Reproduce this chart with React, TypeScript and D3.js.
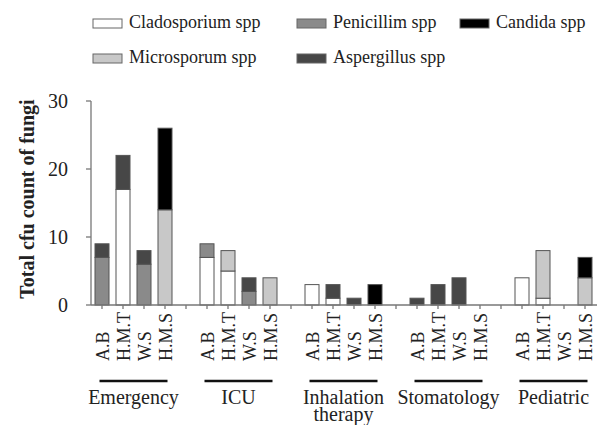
import React from "react";
import * as d3 from "d3";

const series = ["Cladosporium spp", "Penicillim spp", "Microsporum spp", "Aspergillus spp", "Candida spp"];
const colors = ["#ffffff", "#8a8a8a", "#c8c8c8", "#474747", "#000000"];
const groups = ["Emergency", "ICU", "Inhalation therapy", "Stomatology", "Pediatric"];
const sites = ["A.B", "H.M.T", "W.S", "H.M.S"];

// values per group and site: Emergency, ICU, Inhalation therapy, Stomatology, Pediatric × A.B, H.M.T, W.S, H.M.S
const cladosporium = [0, 17, 0, 0, 7, 5, 0, 0, 3, 1, 0, 0, 0, 0, 0, 0, 4, 1, 0, 0];
const penicillim = [7, 0, 6, 0, 2, 0, 2, 0, 0, 0, 0, 0, 0, 0, 0, 0, 0, 0, 0, 0];
const microsporum = [0, 0, 0, 14, 0, 3, 0, 4, 0, 0, 0, 0, 0, 0, 0, 0, 0, 7, 0, 4];
const aspergillus = [2, 5, 2, 0, 0, 0, 2, 0, 0, 2, 1, 0, 1, 3, 4, 0, 0, 0, 0, 0];
const candida = [0, 0, 0, 12, 0, 0, 0, 0, 0, 0, 0, 3, 0, 0, 0, 0, 0, 0, 0, 3];
const yTicks = [0, 10, 20, 30];

const legendOrder = [
  { s: 0, col: 0, row: 0 },
  { s: 1, col: 1, row: 0 },
  { s: 4, col: 2, row: 0 },
  { s: 2, col: 0, row: 1 },
  { s: 3, col: 1, row: 1 },
];

export default function App() {
  const W = 608, H = 425;
  const font = "Liberation Serif, DejaVu Serif, serif";
  const nSlots = 24;
  const x0 = 91.5, step = 21;
  const y = d3.scaleLinear().domain([0, 30]).range([305, 101]);
  const bw = 14;
  const slotScale = d3.scaleLinear().domain([0, nSlots]).range([x0, x0 + step * nSlots]);
  const slotCenter = (s: number) => slotScale(s + 0.5);

  const rows = cladosporium.map((_, i) => ({
    i,
    slot: Math.floor(i / 4) * 5 + (i % 4),
    vals: [cladosporium[i], penicillim[i], microsporum[i], aspergillus[i], candida[i]],
  }));
  const stackData = rows.map((r) => {
    const o: any = { slot: r.slot };
    series.forEach((s, k) => (o[s] = r.vals[k]));
    return o;
  });
  const stacked = d3.stack().keys(series)(stackData);

  const legendX = [93, 297, 460];
  const legendY = [19, 54];
  const ts = { fontFamily: font };

  return (
    <svg width={W} height={H} style={{ position: "absolute", left: 0, top: 0, background: "#fff" }}>
      {legendOrder.map((l) => (
        <g key={l.s} transform={`translate(${legendX[l.col]},${legendY[l.row]})`}>
          <rect x={0} y={0} width={29} height={9} fill={colors[l.s]} stroke="#666" strokeWidth={1} />
          <text x={36} y={9} fontSize={18} fill="#222" style={ts}>{series[l.s]}</text>
        </g>
      ))}
      {stacked.map((layer, k) => (
        <g key={k}>
          {layer.map((d: any, j) => {
            const v = d[1] - d[0];
            if (v <= 0) return null;
            const s = stackData[j].slot;
            return (
              <rect key={j} x={slotCenter(s) - bw / 2} y={y(d[1])} width={bw} height={y(d[0]) - y(d[1])}
                fill={colors[k]} stroke="#555" strokeWidth={1} />
            );
          })}
        </g>
      ))}
      <g stroke="#777" strokeWidth={1.3}>
        <line x1={91} x2={91} y1={y(30)} y2={y(0)} />
        {yTicks.map((t) => (
          <line key={t} x1={86} x2={91} y1={y(t)} y2={y(t)} />
        ))}
        <line x1={91} x2={597} y1={305} y2={305} />
        {d3.range(nSlots).map((s) => (
          <line key={s} x1={slotCenter(s)} x2={slotCenter(s)} y1={305} y2={309} />
        ))}
      </g>
      {yTicks.map((t) => (
        <text key={t} x={68} y={y(t)} dy="0.35em" textAnchor="end" fontSize={20} fill="#222" style={ts}>{t}</text>
      ))}
      <text transform={`translate(34,199) rotate(-90)`} textAnchor="middle" fontSize={20} fontWeight="bold" fill="#222" style={ts}>
        Total cfu count of fungi
      </text>
      {rows.map((r) => (
        <text key={r.i} transform={`translate(${slotCenter(r.slot) + 6.5},361) rotate(-90)`} fontSize={18} fill="#222" style={ts}>
          {sites[r.i % 4]}
        </text>
      ))}
      {groups.map((g, gi) => {
        const c = (slotCenter(gi * 5) + slotCenter(gi * 5 + 3)) / 2;
        const lines = g === "Inhalation therapy" ? ["Inhalation", "therapy"] : [g];
        return (
          <g key={g}>
            <line x1={c - 34} x2={c + 34} y1={381} y2={381} stroke="#111" strokeWidth={2.5} />
            {lines.map((ln, li) => (
              <text key={li} x={c} y={404 + li * 17} textAnchor="middle" fontSize={20} fill="#222" style={ts}>{ln}</text>
            ))}
          </g>
        );
      })}
    </svg>
  );
}
